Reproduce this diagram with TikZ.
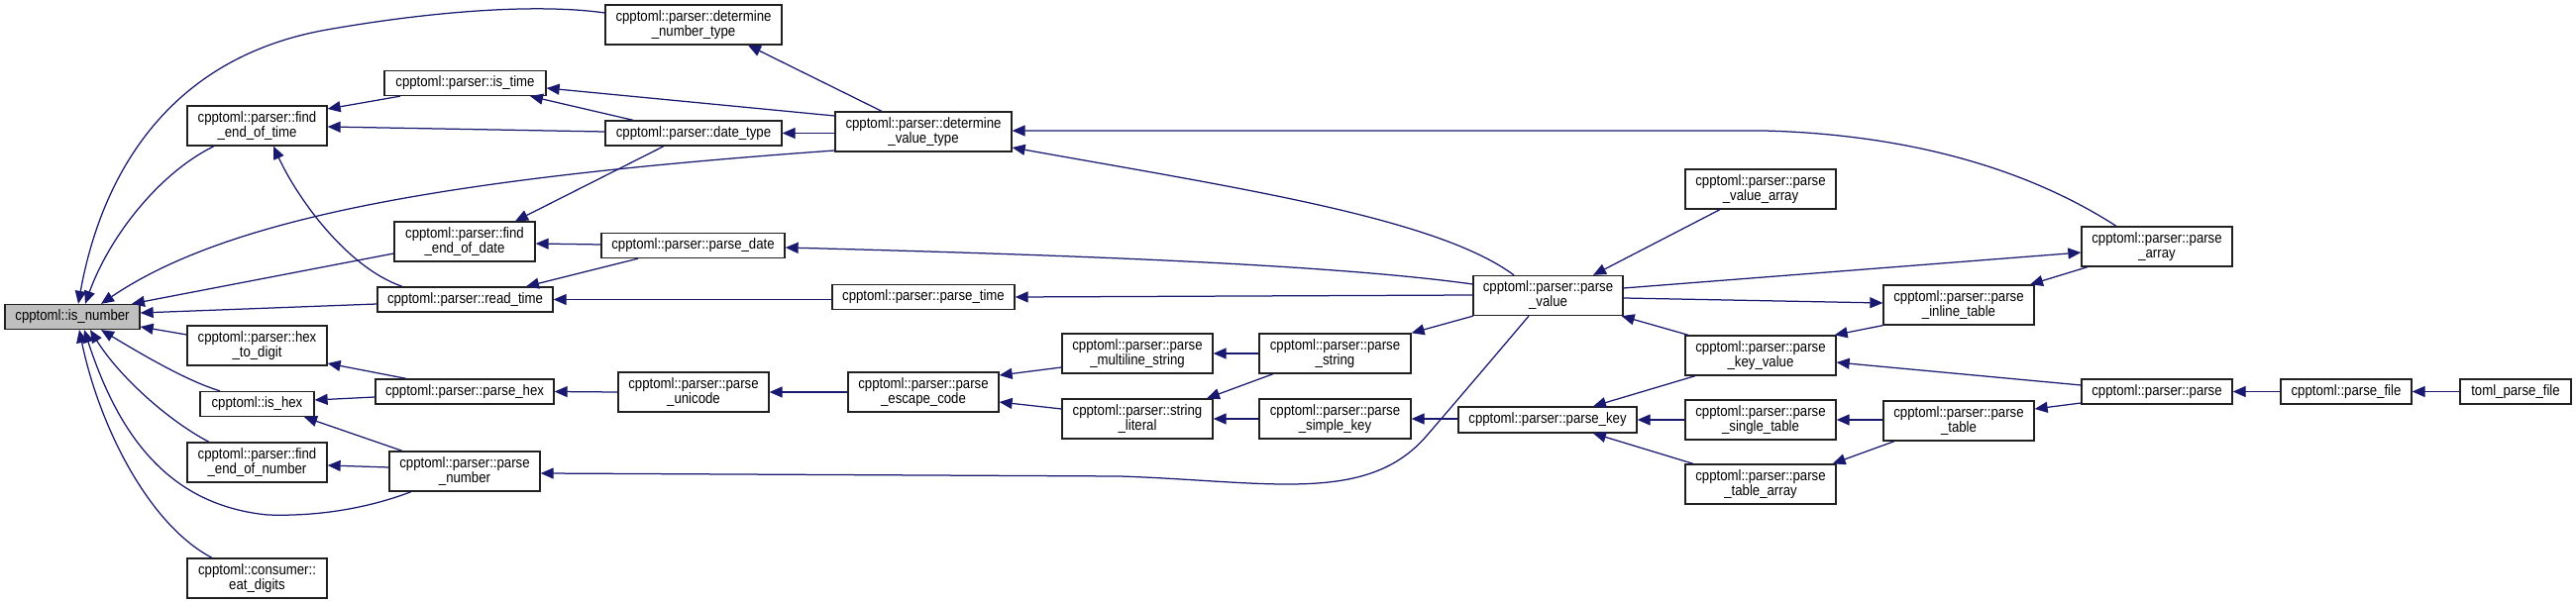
\documentclass[tikz,border=0pt]{standalone}
\usepackage{fontspec}
\setmainfont{Liberation Sans}
\newfontfamily\nodefam{Liberation Sans}[FakeStretch=0.88]
\usetikzlibrary{arrows.meta}
\definecolor{edgecol}{HTML}{191970}
\definecolor{boxline}{HTML}{202020}
\definecolor{graybox}{HTML}{BFBFBF}
\newcommand\nodefont{\nodefam\fontsize{15}{15}\selectfont}
\tikzset{
  box/.style={draw=boxline, fill=white, line width=1.3pt, inner sep=0pt, align=center, font=\nodefont},
  onel/.style={box, minimum height=25pt},
  twol/.style={box, minimum height=40pt},
  edge/.style={draw=edgecol, line width=1.25pt, {Triangle[length=13pt,width=11pt,fill=edgecol]}-}
}
\begin{document}
\begin{tikzpicture}[x=1pt,y=-1pt]
\path[fill=white] (0,0) rectangle (2600,609);
\useasboundingbox (0,0) rectangle (2600,609);
% nodes
\node[onel, fill=graybox, minimum width=136pt] (isnum) at (73,320) {cpptoml::is\_number};
\node[twol, minimum width=178pt] (dnt) at (700,25) {cpptoml::parser::determine\\\_number\_type};
\node[onel, minimum width=163pt] (istime) at (469.5,84) {cpptoml::parser::is\_time};
\node[twol, minimum width=141pt] (feot) at (259.5,127) {cpptoml::parser::find\\\_end\_of\_time};
\node[twol, minimum width=142pt] (feod) at (469,244) {cpptoml::parser::find\\\_end\_of\_date};
\node[onel, minimum width=177pt] (readtime) at (469.5,302.5) {cpptoml::parser::read\_time};
\node[twol, minimum width=141pt] (h2d) at (259.5,349) {cpptoml::parser::hex\\\_to\_digit};
\node[onel, minimum width=115pt] (ishex) at (259.5,408) {cpptoml::is\_hex};
\node[twol, minimum width=141pt] (feon) at (259.5,467) {cpptoml::parser::find\\\_end\_of\_number};
\node[twol, minimum width=141pt] (eatd) at (259.5,584) {cpptoml::consumer::\\eat\_digits};
\node[onel, minimum width=180pt] (parsehex) at (469,395.5) {cpptoml::parser::parse\_hex};
\node[twol, minimum width=152pt] (parsenum) at (469,476) {cpptoml::parser::parse\\\_number};
\node[onel, minimum width=178pt] (datetype) at (700,134.5) {cpptoml::parser::date\_type};
\node[twol, minimum width=178pt] (dvt) at (932,133) {cpptoml::parser::determine\\\_value\_type};
\node[onel, minimum width=185pt] (parsedate) at (699.5,248) {cpptoml::parser::parse\_date};
\node[onel, minimum width=184pt] (parsetime) at (932,300) {cpptoml::parser::parse\_time};
\node[twol, minimum width=152pt] (parseuni) at (700,396) {cpptoml::parser::parse\\\_unicode};
\node[twol, minimum width=152pt] (pesc) at (932,396) {cpptoml::parser::parse\\\_escape\_code};
\node[twol, minimum width=152pt] (pmls) at (1148,357) {cpptoml::parser::parse\\\_multiline\_string};
\node[twol, minimum width=152pt] (strlit) at (1148,423) {cpptoml::parser::string\\\_literal};
\node[twol, minimum width=152pt] (pva) at (1777,191) {cpptoml::parser::parse\\\_value\_array};
\node[twol, minimum width=151pt] (pval) at (1562.5,298.5) {cpptoml::parser::parse\\\_value};
\node[twol, minimum width=153pt] (pstr) at (1347.5,357) {cpptoml::parser::parse\\\_string};
\node[twol, minimum width=153pt] (psk) at (1347.5,423) {cpptoml::parser::parse\\\_simple\_key};
\node[onel, minimum width=180pt, minimum height=26pt] (pkey) at (1562,424) {cpptoml::parser::parse\_key};
\node[twol, minimum width=152pt] (pkv) at (1777,359) {cpptoml::parser::parse\\\_key\_value};
\node[twol, minimum width=152pt] (pst) at (1777,424) {cpptoml::parser::parse\\\_single\_table};
\node[twol, minimum width=152pt] (pta) at (1777,489) {cpptoml::parser::parse\\\_table\_array};
\node[twol, minimum width=152pt] (parr) at (2177,249) {cpptoml::parser::parse\\\_array};
\node[twol, minimum width=152pt] (pit) at (1977,308) {cpptoml::parser::parse\\\_inline\_table};
\node[twol, minimum width=152pt] (ptab) at (1977,425) {cpptoml::parser::parse\\\_table};
\node[onel, minimum width=152pt] (parse) at (2177,395.5) {cpptoml::parser::parse};
\node[onel, minimum width=132pt] (pfile) at (2368,395.5) {cpptoml::parse\_file};
\node[onel, minimum width=112pt] (toml) at (2539,395.5) {toml\_parse\_file};
% edges
\draw[edge] ([xshift=6pt]isnum.north) .. controls (100,190) and (160,60) .. (330,30) .. controls (432,12) and (540,3) .. ([yshift=12pt]dnt.west);
\draw[edge] ([xshift=13pt]isnum.north) .. controls (110,240) and (160,175) .. ([xshift=-43.5pt]feot.south);
\draw[edge] ([xshift=29pt]isnum.north) .. controls (230,220) and (450,180) .. ([yshift=-19pt]dvt.west);
\draw[edge] ([yshift=-5pt]istime.east) -- ([yshift=16pt]dvt.west);
\draw[edge] ([xshift=65.5pt]istime.south) -- ([xshift=-61pt]datetype.north);
\draw[edge] ([yshift=17pt]feot.east) -- ([xshift=-65.5pt]istime.south);
\draw[edge] ([yshift=-1pt]feot.east) -- ([yshift=1.5pt]datetype.west);
\draw[edge] (datetype.east) -- ([yshift=-1.5pt]dvt.west);
\draw[edge] ([xshift=51pt]feod.north) -- ([xshift=-30pt]datetype.south);
\draw[edge] ([xshift=16.5pt]feot.south) .. controls (300,200) and (350,270) .. ([xshift=-63.5pt]readtime.north);
\draw[edge] ([xshift=60pt]isnum.north) -- ([yshift=-12pt]feod.west);
\draw[edge] ([yshift=4pt]isnum.east) -- ([yshift=-4.5pt]readtime.west);
\draw[edge] ([yshift=-2pt]feod.east) -- ([yshift=1pt]parsedate.west);
\draw[edge] ([xshift=61.5pt]readtime.north) -- ([xshift=-55.5pt]parsedate.south);
\draw[edge] (readtime.east) -- ([yshift=-2.5pt]parsetime.west);
\draw[edge] ([yshift=-2pt]parsedate.east) .. controls (1100,258) and (1350,268) .. ([yshift=11.5pt]pval.west);
\draw[edge] (parsetime.east) -- ([yshift=0.5pt]pval.west);
\draw[edge] ([xshift=55pt]dnt.south) -- ([xshift=-42pt]dvt.north);
\draw[edge] ([yshift=1pt]dvt.east) -- (1780,132) .. controls (1900,135) and (2030,160) .. ([xshift=-41pt]parr.north);
\draw[edge] ([yshift=-16pt]dvt.east) .. controls (1250,190) and (1450,220) .. ([xshift=-34.5pt]pval.north);
\draw[edge] ([xshift=45.5pt]pval.north) -- ([xshift=-41pt]pva.south);
\draw[edge] ([yshift=-6pt]parr.west) -- ([yshift=7.5pt]pval.east);
\draw[edge] ([yshift=2pt]pit.west) -- ([yshift=-2.5pt]pval.east);
\draw[edge] ([xshift=72pt]pit.north) -- ([xshift=-70pt]parr.south);
\draw[edge] ([xshift=-2pt]pkv.north east) -- (pit.south west);
\draw[edge] ([yshift=-7pt]pkv.east) -- ([yshift=6.5pt]parse.west);
\draw[edge] (pst.east) -- ([yshift=1pt]ptab.west);
\draw[edge] ([xshift=-4pt]pta.north east) -- ([xshift=-65pt]ptab.south);
\draw[edge] ([yshift=12pt]ptab.east) -- ([yshift=-11.5pt]parse.west);
\draw[edge] (parse.east) -- (pfile.west);
\draw[edge] (pfile.east) -- (toml.west);
\draw[edge] ([xshift=-2pt]pval.south east) -- ([xshift=-73pt]pkv.north);
\draw[edge] (pstr.north east) -- ([xshift=0.5pt]pval.south west);
\draw[edge] ([xshift=46pt]pkey.north) -- ([xshift=-66pt]pkv.south);
\draw[edge] (pkey.east) -- (pst.west);
\draw[edge] ([xshift=46pt]pkey.south) -- ([xshift=-68pt]pta.north);
\draw[edge] (psk.east) -- ([yshift=1pt]pkey.west);
\draw[edge] (pmls.east) -- (pstr.west);
\draw[edge] ([xshift=70pt]strlit.north) -- ([xshift=-62.5pt]pstr.south);
\draw[edge] (strlit.east) -- (psk.west);
\draw[edge] ([yshift=-2pt]parsenum.east) -- (1130,481) .. controls (1280,486) and (1380,510) .. (1440,440) .. controls (1465,411) and (1500,370) .. ([xshift=-19.5pt]pval.south);
\draw[edge] ([yshift=17pt]pesc.east) -- ([yshift=-14pt]pmls.west);
\draw[edge] ([yshift=-10pt]pesc.east) -- ([yshift=10pt]strlit.west);
\draw[edge] (parseuni.east) -- (pesc.west);
\draw[edge] (parsehex.east) -- (parseuni.west);
\draw[edge] ([yshift=-10pt]isnum.east) -- ([yshift=11pt]h2d.west);
\draw[edge] ([xshift=29pt]isnum.south) .. controls (150,362) and (190,385) .. ([xshift=-37.5pt]ishex.north);
\draw[edge] ([xshift=18pt]isnum.south) .. controls (120,380) and (170,425) .. ([xshift=-48.5pt]feon.north);
\draw[edge] ([xshift=12pt]isnum.south) .. controls (120,440) and (170,510) .. (270,520) .. controls (330,522) and (380,510) .. ([xshift=-54pt]parsenum.south);
\draw[edge] ([xshift=7pt]isnum.south) .. controls (100,430) and (150,530) .. ([xshift=-45.5pt]eatd.north);
\draw[edge] ([yshift=-18pt]h2d.east) -- ([xshift=-59pt]parsehex.north);
\draw[edge] ([yshift=4pt]ishex.east) -- ([yshift=-5.5pt]parsehex.west);
\draw[edge] ([xshift=47.5pt]ishex.south) -- ([xshift=-63pt]parsenum.north);
\draw[edge] ([yshift=-3pt]feon.east) -- ([yshift=4pt]parsenum.west);
\end{tikzpicture}
\end{document}
